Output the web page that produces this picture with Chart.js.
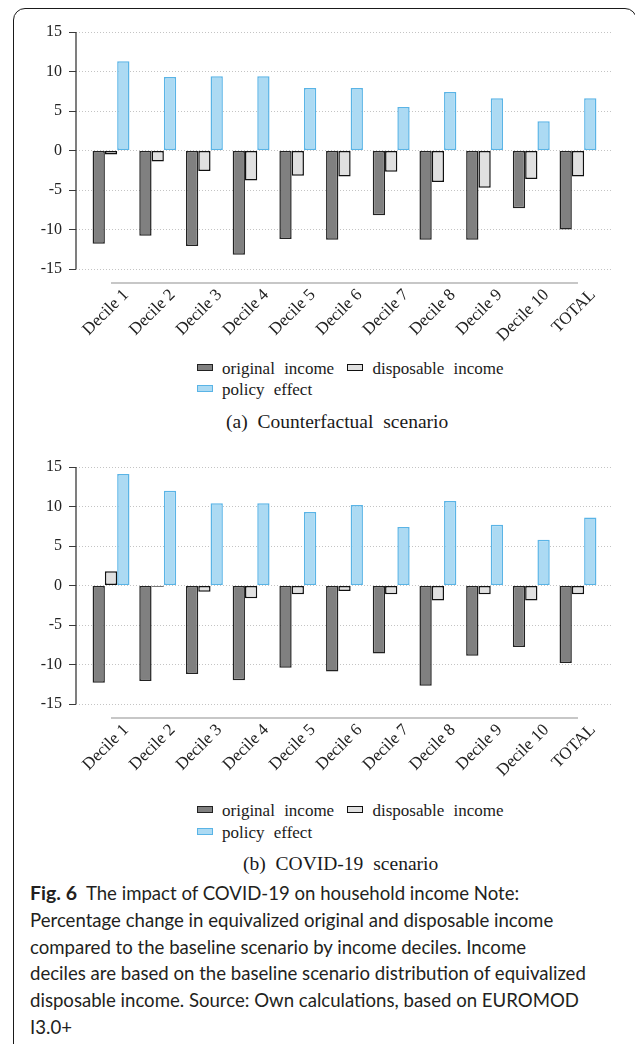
<!DOCTYPE html>
<html>
<head>
<meta charset="utf-8">
<script src="https://cdn.jsdelivr.net/npm/chart.js@4.4.1/dist/chart.umd.min.js"></script>
<style>
  html, body { margin: 0; padding: 0; background: #fff; }
  body { width: 635px; height: 1044px; overflow: hidden; position: relative; font-family: "Liberation Serif", serif; color: #1a1a1a; }
  .frame { position: absolute; left: 13px; top: 8px; width: 624px; height: 1100px; box-sizing: border-box; border: 1.5px solid #1a1a1a; border-radius: 12px; }
  .plot { position: absolute; left: 0; width: 635px; height: 350px; }
  .legend-row { position: absolute; left: 197px; font-size: 17px; word-spacing: 5px; line-height: 20px; white-space: nowrap; }
  .swatch { display: inline-block; width: 16px; height: 7px; box-sizing: border-box; border: 1.5px solid; margin-right: 9px; position: relative; top: -3px; }
  .sub { position: absolute; font-size: 19.5px; word-spacing: 5px; line-height: 22px; white-space: nowrap; }
  .note { position: absolute; left: 30px; top: 880px; font-family: Lato, sans-serif; font-size: 18.6px; line-height: 26.8px; color: #231f20; white-space: nowrap; }
  .note b { font-size: 19.5px; }
</style>
</head>
<body>
<div class="frame"></div>

<div class="plot" style="top:0"><canvas id="chartA"></canvas></div>
<div class="legend-row" style="top:359px">
  <span class="swatch" style="background:#808080;border-color:#222"></span>original income
  <span class="swatch" style="background:#e0e0e0;border-color:#111;margin-left:4px"></span>disposable income
</div>
<div class="legend-row" style="top:380px">
  <span class="swatch" style="background:#acdaf3;border-color:#5ab4e6"></span>policy effect
</div>
<div class="sub" style="left:226px;top:411px">(a) Counterfactual scenario</div>

<div class="plot" style="top:435px"><canvas id="chartB"></canvas></div>
<div class="legend-row" style="top:801px">
  <span class="swatch" style="background:#808080;border-color:#222"></span>original income
  <span class="swatch" style="background:#e0e0e0;border-color:#111;margin-left:4px"></span>disposable income
</div>
<div class="legend-row" style="top:823px">
  <span class="swatch" style="background:#acdaf3;border-color:#5ab4e6"></span>policy effect
</div>
<div class="sub" style="left:243px;top:853px">(b) COVID-19 scenario</div>

<div class="note">
<b>Fig. 6</b>&nbsp; The impact of COVID-19 on household income Note:<br>
Percentage change in equivalized original and disposable income<br>
compared to the baseline scenario by income deciles. Income<br>
deciles are based on the baseline scenario distribution of equivalized<br>
disposable income. Source: Own calculations, based on EUROMOD<br>
I3.0+
</div>

<script>
// categorias e valores
const categories = ['Decile 1', 'Decile 2', 'Decile 3', 'Decile 4', 'Decile 5', 'Decile 6',
                    'Decile 7', 'Decile 8', 'Decile 9', 'Decile 10', 'TOTAL'];
const yTicks = [-15, -10, -5, 0, 5, 10, 15];

// (a) Counterfactual scenario
const cfOriginal   = [-11.8, -10.8, -12.1, -13.2, -11.2, -11.3, -8.2, -11.3, -11.3, -7.3, -10.0];
const cfDisposable = [-0.5, -1.4, -2.6, -3.8, -3.2, -3.3, -2.7, -4.0, -4.7, -3.6, -3.3];
const cfPolicy     = [11.3, 9.3, 9.4, 9.4, 7.9, 7.9, 5.5, 7.4, 6.6, 3.7, 6.6];

// (b) COVID-19 scenario
const cvOriginal   = [-12.3, -12.1, -11.2, -12.0, -10.4, -10.9, -8.6, -12.7, -8.9, -7.8, -9.8];
const cvDisposable = [1.8, -0.15, -0.8, -1.6, -1.1, -0.7, -1.1, -1.9, -1.1, -1.9, -1.1];
const cvPolicy     = [14.1, 12.0, 10.4, 10.4, 9.3, 10.2, 7.4, 10.7, 7.7, 5.8, 8.6];

const serif = 'Liberation Serif';

// linha do eixo y e linha cinza do eixo x (só entre a primeira e a última categoria)
const axisLines = {
    id: 'axisLines',
    afterDraw(chart) {
        const { ctx, chartArea, scales } = chart;
        ctx.save();
        ctx.strokeStyle = '#3a3a3a';
        ctx.lineWidth = 1.3;
        ctx.beginPath();
        ctx.moveTo(chartArea.left, chartArea.top);
        ctx.lineTo(chartArea.left, chartArea.bottom);
        ctx.stroke();
        const y = chartArea.bottom + 14;
        ctx.strokeStyle = '#b4b4b4';
        ctx.lineWidth = 1.6;
        ctx.beginPath();
        ctx.moveTo(scales.x.getPixelForValue(0), y);
        ctx.lineTo(scales.x.getPixelForValue(categories.length - 1), y);
        ctx.stroke();
        ctx.restore();
    }
};

function points(values) {
    return categories.map((c, i) => ({ x: i, y: values[i] }));
}

function makeChart(id, original, disposable, policy) {
    const ctx = document.getElementById(id).getContext('2d');
    return new Chart(ctx, {
        type: 'bar',
        data: {
            datasets: [{
                label: 'original income',
                data: points(original),
                backgroundColor: '#808080',
                borderColor: '#222222',
                borderWidth: 1.5
            }, {
                label: 'disposable income',
                data: points(disposable),
                backgroundColor: '#e0e0e0',
                borderColor: '#111111',
                borderWidth: 1.5
            }, {
                label: 'policy effect',
                data: points(policy),
                backgroundColor: '#acdaf3',
                borderColor: '#5ab4e6',
                borderWidth: 1.5
            }]
        },
        options: {
            responsive: true,
            maintainAspectRatio: false,
            animation: false,
            layout: { padding: { left: 16, right: 22, top: 32, bottom: 0 } },
            datasets: {
                bar: { categoryPercentage: 0.79, barPercentage: 1.0, borderSkipped: false }
            },
            scales: {
                x: {
                    type: 'linear',
                    offset: false,
                    min: -0.75,
                    max: categories.length - 0.25,
                    grid: { display: false, drawTicks: false, offset: false },
                    border: { display: false },
                    afterBuildTicks: s => { s.ticks = categories.map((c, i) => ({ value: i })); },
                    afterFit: s => { s.height = 81; },
                    ticks: {
                        autoSkip: false,
                        maxRotation: 45,
                        minRotation: 45,
                        labelOffset: 15,
                        padding: 16,
                        color: '#222',
                        font: { family: serif, size: 17 },
                        callback: v => categories[v]
                    }
                },
                y: {
                    min: yTicks[0],
                    max: yTicks[yTicks.length - 1],
                    afterBuildTicks: s => { s.ticks = yTicks.map(v => ({ value: v })); },
                    afterFit: s => { s.width = 60; },
                    grid: { color: '#c4c4c4', lineWidth: 1, tickColor: '#3a3a3a', tickLength: 7 },
                    border: { display: false, dash: [1, 2] },
                    ticks: {
                        padding: 7,
                        color: '#222',
                        font: { family: serif, size: 16 }
                    }
                }
            },
            plugins: {
                legend: { display: false },
                tooltip: { enabled: false }
            }
        },
        plugins: [axisLines]
    });
}

makeChart('chartA', cfOriginal, cfDisposable, cfPolicy);
makeChart('chartB', cvOriginal, cvDisposable, cvPolicy);
</script>
</body>
</html>
